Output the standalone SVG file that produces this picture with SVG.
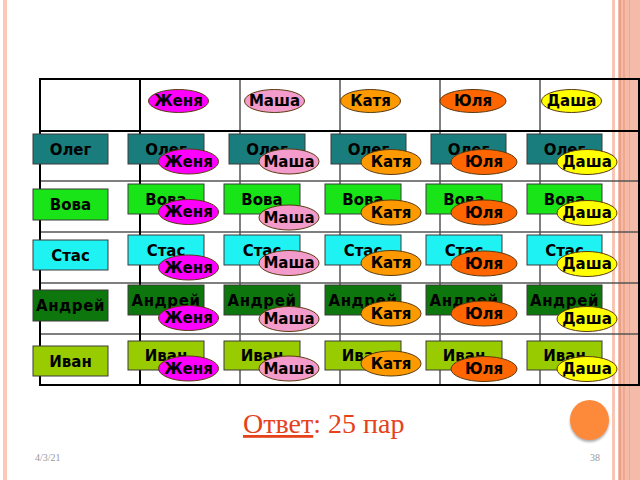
<svg xmlns="http://www.w3.org/2000/svg" width="640" height="480" viewBox="0 0 640 480">
<defs>
<style>
.lbl{font-family:"DejaVu Sans",Verdana,sans-serif;font-weight:bold;font-size:15px;fill:#000;text-anchor:middle}
.gl{font-family:"DejaVu Sans",Verdana,sans-serif;font-weight:bold;font-size:15px;fill:#000;text-anchor:middle}
.box{stroke:#3a3a3a;stroke-width:1}
.ov{stroke:#5a3a10;stroke-width:1}
.oleg{fill:#1a7d7d}.vova{fill:#18e418}.stas{fill:#1ff2f2}.andr{fill:#0d760d}.ivan{fill:#99cc00}
.zh{fill:#ff00ff}.ma{fill:#f39ccb}.ka{fill:#ff9900}.yu{fill:#ff6600}.da{fill:#ffff00}
.thick{stroke:#000;stroke-width:2;fill:none}
.thin{stroke:#555;stroke-width:1.5;fill:none}
.foot{font-family:"Liberation Serif",serif;font-size:10px;fill:#999}
</style>
<filter id="sh" x="-30%" y="-30%" width="160%" height="170%"><feDropShadow dx="0" dy="2" stdDeviation="1.2" flood-color="#777" flood-opacity="0.6"/></filter>
</defs>
<rect width="640" height="480" fill="#fff"/>
<!-- decorative borders -->
<rect x="3" y="0" width="4" height="480" fill="#fcc9b8"/>
<rect x="612" y="0" width="3" height="480" fill="#f8c6b4"/>
<rect x="618" y="0" width="22" height="480" fill="#f4bca8"/>
<rect x="619" y="0" width="2" height="480" fill="#ec9e86"/>
<rect x="623" y="0" width="2" height="480" fill="#eea88f"/>
<rect x="629" y="0" width="1" height="480" fill="#eea88f"/>
<!-- table grid -->
<g id="grid">
<line class="thin" x1="40" y1="181" x2="639" y2="181"/>
<line class="thin" x1="40" y1="232" x2="639" y2="232"/>
<line class="thin" x1="40" y1="283" x2="639" y2="283"/>
<line class="thin" x1="40" y1="334" x2="639" y2="334"/>
<line class="thin" x1="240" y1="79" x2="240" y2="385"/>
<line class="thin" x1="340" y1="79" x2="340" y2="385"/>
<line class="thin" x1="440" y1="79" x2="440" y2="385"/>
<line class="thin" x1="540" y1="79" x2="540" y2="385"/>
<line class="thick" x1="140" y1="79" x2="140" y2="385"/>
<line class="thick" x1="40" y1="131" x2="639" y2="131"/>
<rect class="thick" x="40" y="79" width="599" height="306"/>
</g>
<!-- header girls -->
<g id="h-zhenya"><ellipse class="ov zh" cx="178.5" cy="101" rx="30" ry="11.5"/><text class="gl" x="178.5" y="106">Женя</text></g>
<g id="h-masha"><ellipse class="ov ma" cx="274.5" cy="101" rx="30" ry="11.5"/><text class="gl" x="274.5" y="106">Маша</text></g>
<g id="h-katya"><ellipse class="ov ka" cx="370.5" cy="101" rx="30" ry="11.5"/><text class="gl" x="370.5" y="106">Катя</text></g>
<g id="h-yulya"><ellipse class="ov yu" cx="473" cy="101" rx="33" ry="11.5"/><text class="gl" x="473" y="106">Юля</text></g>
<g id="h-dasha"><ellipse class="ov da" cx="571.5" cy="101" rx="30" ry="11.5"/><text class="gl" x="571.5" y="106">Даша</text></g>
<!-- row labels -->
<g id="r-oleg"><rect class="box oleg" x="33" y="134" width="75" height="30"/><text class="lbl" x="70.5" y="154.5">Олег</text></g>
<g id="r-vova"><rect class="box vova" x="33" y="189" width="75" height="31"/><text class="lbl" x="70.5" y="210">Вова</text></g>
<g id="r-stas"><rect class="box stas" x="33" y="240" width="75" height="30"/><text class="lbl" x="70.5" y="260.5">Стас</text></g>
<g id="r-andrey"><rect class="box andr" x="33" y="290" width="75" height="31"/><text class="lbl" x="70.5" y="311" letter-spacing="0.6">Андрей</text></g>
<g id="r-ivan"><rect class="box ivan" x="33" y="346" width="75" height="30"/><text class="lbl" x="70.5" y="366.5">Иван</text></g>
<!-- Oleg row -->
<g id="c-oleg-1"><rect class="box oleg" x="128" y="134" width="76" height="30"/><text class="lbl" x="166" y="155">Олег</text><ellipse class="ov zh" cx="188.5" cy="161.5" rx="30" ry="12.5"/><text class="gl" x="188.5" y="166.5">Женя</text></g>
<g id="c-oleg-2"><rect class="box oleg" x="229" y="134" width="76" height="30"/><text class="lbl" x="267" y="155">Олег</text><ellipse class="ov ma" cx="289" cy="161.5" rx="30" ry="12.5"/><text class="gl" x="289" y="166.5">Маша</text></g>
<g id="c-oleg-3"><rect class="box oleg" x="331" y="134" width="75" height="30"/><text class="lbl" x="368.5" y="155">Олег</text><ellipse class="ov ka" cx="391" cy="162" rx="30" ry="12.5"/><text class="gl" x="391" y="167">Катя</text></g>
<g id="c-oleg-4"><rect class="box oleg" x="431" y="134" width="75" height="30"/><text class="lbl" x="468.5" y="155">Олег</text><ellipse class="ov yu" cx="484" cy="162" rx="33" ry="12.5"/><text class="gl" x="484" y="167">Юля</text></g>
<g id="c-oleg-5"><rect class="box oleg" x="527" y="134" width="75" height="30"/><text class="lbl" x="564.5" y="155">Олег</text><ellipse class="ov da" cx="587" cy="162" rx="30" ry="12.5"/><text class="gl" x="587" y="167">Даша</text></g>
<!-- Vova row -->
<g id="c-vova-1"><rect class="box vova" x="128" y="184" width="76" height="30"/><text class="lbl" x="166" y="205">Вова</text><ellipse class="ov zh" cx="188.5" cy="212" rx="30" ry="12.5"/><text class="gl" x="188.5" y="217">Женя</text></g>
<g id="c-vova-2"><rect class="box vova" x="224" y="184" width="76" height="30"/><text class="lbl" x="262" y="205">Вова</text><ellipse class="ov ma" cx="289" cy="217.5" rx="30" ry="12.5"/><text class="gl" x="289" y="222.5">Маша</text></g>
<g id="c-vova-3"><rect class="box vova" x="325" y="184" width="76" height="30"/><text class="lbl" x="363" y="205">Вова</text><ellipse class="ov ka" cx="391" cy="212.5" rx="30" ry="12.5"/><text class="gl" x="391" y="217.5">Катя</text></g>
<g id="c-vova-4"><rect class="box vova" x="426" y="184" width="76" height="30"/><text class="lbl" x="464" y="205">Вова</text><ellipse class="ov yu" cx="484" cy="212.5" rx="33" ry="12.5"/><text class="gl" x="484" y="217.5">Юля</text></g>
<g id="c-vova-5"><rect class="box vova" x="527" y="184" width="75" height="30"/><text class="lbl" x="564.5" y="205">Вова</text><ellipse class="ov da" cx="587" cy="213" rx="30" ry="12.5"/><text class="gl" x="587" y="218">Даша</text></g>
<!-- Stas row -->
<g id="c-stas-1"><rect class="box stas" x="128" y="235" width="76" height="30"/><text class="lbl" x="166" y="256">Стас</text><ellipse class="ov zh" cx="188.5" cy="267.5" rx="30" ry="12.5"/><text class="gl" x="188.5" y="272.5">Женя</text></g>
<g id="c-stas-2"><rect class="box stas" x="224" y="235" width="76" height="30"/><text class="lbl" x="262" y="256">Стас</text><ellipse class="ov ma" cx="289" cy="263" rx="30" ry="12.5"/><text class="gl" x="289" y="268">Маша</text></g>
<g id="c-stas-3"><rect class="box stas" x="325" y="235" width="76" height="30"/><text class="lbl" x="363" y="256">Стас</text><ellipse class="ov ka" cx="391" cy="263" rx="30" ry="12.5"/><text class="gl" x="391" y="268">Катя</text></g>
<g id="c-stas-4"><rect class="box stas" x="426" y="235" width="76" height="30"/><text class="lbl" x="464" y="256">Стас</text><ellipse class="ov yu" cx="484" cy="263.5" rx="33" ry="12.5"/><text class="gl" x="484" y="268.5">Юля</text></g>
<g id="c-stas-5"><rect class="box stas" x="527" y="235" width="75" height="30"/><text class="lbl" x="564.5" y="256">Стас</text><ellipse class="ov da" cx="587" cy="264" rx="30" ry="12.5"/><text class="gl" x="587" y="269">Даша</text></g>
<!-- Andrey row -->
<g id="c-andrey-1"><rect class="box andr" x="128" y="285" width="76" height="30"/><text class="lbl" x="166" y="306" letter-spacing="0.6">Андрей</text><ellipse class="ov zh" cx="188.5" cy="318" rx="30" ry="12.5"/><text class="gl" x="188.5" y="323">Женя</text></g>
<g id="c-andrey-2"><rect class="box andr" x="224" y="285" width="76" height="30"/><text class="lbl" x="262" y="306" letter-spacing="0.6">Андрей</text><ellipse class="ov ma" cx="289" cy="319" rx="30" ry="12.5"/><text class="gl" x="289" y="324">Маша</text></g>
<g id="c-andrey-3"><rect class="box andr" x="325" y="285" width="76" height="30"/><text class="lbl" x="363" y="306" letter-spacing="0.6">Андрей</text><ellipse class="ov ka" cx="391" cy="313.5" rx="30" ry="12.5"/><text class="gl" x="391" y="318.5">Катя</text></g>
<g id="c-andrey-4"><rect class="box andr" x="426" y="285" width="76" height="30"/><text class="lbl" x="464" y="306" letter-spacing="0.6">Андрей</text><ellipse class="ov yu" cx="484" cy="313.5" rx="33" ry="12.5"/><text class="gl" x="484" y="318.5">Юля</text></g>
<g id="c-andrey-5"><rect class="box andr" x="527" y="285" width="75" height="30"/><text class="lbl" x="564.5" y="306" letter-spacing="0.6">Андрей</text><ellipse class="ov da" cx="587" cy="319" rx="30" ry="12.5"/><text class="gl" x="587" y="324">Даша</text></g>
<!-- Ivan row -->
<g id="c-ivan-1"><rect class="box ivan" x="128" y="341" width="76" height="29"/><text class="lbl" x="166" y="361">Иван</text><ellipse class="ov zh" cx="188.5" cy="368.5" rx="30" ry="12.5"/><text class="gl" x="188.5" y="373.5">Женя</text></g>
<g id="c-ivan-2"><rect class="box ivan" x="224" y="341" width="76" height="29"/><text class="lbl" x="262" y="361">Иван</text><ellipse class="ov ma" cx="289" cy="368.5" rx="30" ry="12.5"/><text class="gl" x="289" y="373.5">Маша</text></g>
<g id="c-ivan-3"><rect class="box ivan" x="325" y="341" width="76" height="29"/><text class="lbl" x="363" y="361">Иван</text><ellipse class="ov ka" cx="391" cy="363.5" rx="30" ry="12.5"/><text class="gl" x="391" y="368.5">Катя</text></g>
<g id="c-ivan-4"><rect class="box ivan" x="426" y="341" width="76" height="29"/><text class="lbl" x="464" y="361">Иван</text><ellipse class="ov yu" cx="484" cy="369" rx="33" ry="12.5"/><text class="gl" x="484" y="374">Юля</text></g>
<g id="c-ivan-5"><rect class="box ivan" x="527" y="341" width="75" height="29"/><text class="lbl" x="564.5" y="361">Иван</text><ellipse class="ov da" cx="587" cy="369" rx="30" ry="12.5"/><text class="gl" x="587" y="374">Даша</text></g>
<g id="connectors"/>
<!-- answer -->
<text x="243" y="433" font-family="'Liberation Serif',serif" font-size="28" fill="#e5421c"><tspan text-decoration="underline">Ответ</tspan>: 25 пар</text>
<ellipse cx="589.5" cy="420" rx="19.5" ry="20" fill="#fd8a3a" filter="url(#sh)"/>
<text class="foot" x="35" y="461">4/3/21</text>
<text class="foot" x="600" y="461" text-anchor="end">38</text>
</svg>
